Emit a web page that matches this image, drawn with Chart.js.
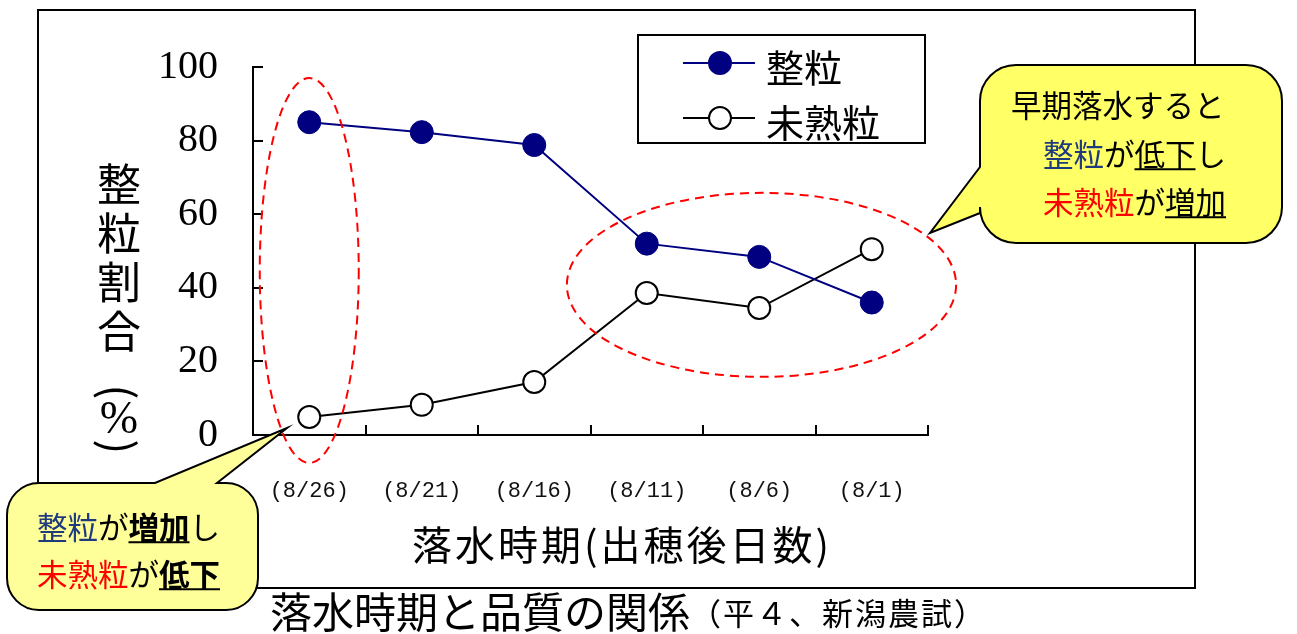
<!DOCTYPE html>
<html lang="ja">
<head>
<meta charset="utf-8">
<title>落水時期と品質の関係</title>
<script src="https://cdn.jsdelivr.net/npm/chart.js@4.4.1/dist/chart.umd.min.js"></script>
<style>
  html, body { margin: 0; padding: 0; background: #fff; }
  #wrap { width: 1297px; height: 634px; }
</style>
</head>
<body>
<div id="wrap"><canvas id="qualityChart" width="1297" height="634"></canvas></div>
<script>
// 落水時期（出穂後日数）ごとの整粒・未熟粒の割合（%）
const dates = ["(8/26)", "(8/21)", "(8/16)", "(8/11)", "(8/6)", "(8/1)"];
const seiryu = [85, 82.3, 78.8, 52, 48.4, 36];
const mijuku = [4.9, 8.2, 14.4, 38.6, 34.5, 50.5];
const yTicks = [0, 20, 40, 60, 80, 100];

const JP = '"Noto Sans CJK JP", sans-serif';
const SERIF = '"Liberation Serif", "DejaVu Serif", serif';
const NAVY = "#000080";
const TEXT_BLUE = "#1f3b7d";
const RED = "#ff0000";

// rounded speech bubble with a triangular tail on one edge
function bubblePath(ctx, x, y, w, h, r, tail) {
  ctx.beginPath();
  ctx.moveTo(x + r, y);
  if (tail.edge === "top") {
    ctx.lineTo(tail.a, y);
    ctx.lineTo(tail.tipX, tail.tipY);
    ctx.lineTo(tail.b, y);
  }
  ctx.lineTo(x + w - r, y);
  ctx.arcTo(x + w, y, x + w, y + r, r);
  ctx.lineTo(x + w, y + h - r);
  ctx.arcTo(x + w, y + h, x + w - r, y + h, r);
  ctx.lineTo(x + r, y + h);
  ctx.arcTo(x, y + h, x, y + h - r, r);
  if (tail.edge === "left") {
    ctx.lineTo(x, tail.b);
    ctx.lineTo(tail.tipX, tail.tipY);
    ctx.lineTo(x, tail.a);
  }
  ctx.lineTo(x, y + r);
  ctx.arcTo(x, y, x + r, y, r);
  ctx.closePath();
}

// one line of mixed-colour text, parts may be bold / underlined
function richLine(ctx, x, y, parts, size) {
  ctx.textAlign = "left";
  ctx.textBaseline = "middle";
  for (const p of parts) {
    ctx.font = (p.bold ? "bold " : "") + size + "px " + JP;
    ctx.fillStyle = p.color || "#000";
    ctx.fillText(p.t, x, y);
    const w = ctx.measureText(p.t).width;
    if (p.u) {
      ctx.fillStyle = "#000";
      ctx.fillRect(x, y + size / 2 - 1, w, 2);
    }
    x += w;
  }
}

function dashedEllipse(ctx, xs, ys, x0, x1, y0, y1) {
  const l = xs.getPixelForValue(x0), r = xs.getPixelForValue(x1);
  const t = ys.getPixelForValue(y0), b = ys.getPixelForValue(y1);
  ctx.save();
  ctx.strokeStyle = RED;
  ctx.lineWidth = 2;
  ctx.setLineDash([9, 6]);
  ctx.beginPath();
  ctx.ellipse((l + r) / 2, (t + b) / 2, (r - l) / 2, (b - t) / 2, 0, 0, Math.PI * 2);
  ctx.stroke();
  ctx.restore();
}

const decorPlugin = {
  id: "decor",
  beforeDraw(chart) {
    const ctx = chart.ctx;
    ctx.save();
    ctx.fillStyle = "#fff";
    ctx.fillRect(0, 0, chart.width, chart.height);
    // outer frame
    ctx.strokeStyle = "#000";
    ctx.lineWidth = 2;
    ctx.strokeRect(38, 10, 1157, 578);
    ctx.restore();
  },
  beforeDatasetsDraw(chart) {
    const { ctx, scales: { x, y } } = chart;
    ctx.save();
    ctx.strokeStyle = "#000";
    ctx.lineWidth = 2;
    ctx.beginPath();
    // inward tick marks on the value axis
    for (const v of yTicks) {
      const py = Math.round(y.getPixelForValue(v));
      ctx.moveTo(x.left, py);
      ctx.lineTo(x.left + 10, py);
    }
    // inward tick marks between categories
    const n = dates.length;
    for (let i = 1; i <= n; i++) {
      const px = i === n ? x.right : Math.round((x.getPixelForValue(i - 1) + x.getPixelForValue(i)) / 2);
      ctx.moveTo(px, y.bottom);
      ctx.lineTo(px, y.bottom - 10);
    }
    ctx.stroke();
    ctx.restore();
  },
  afterDatasetsDraw(chart) {
    const { ctx, scales: { x, y } } = chart;
    dashedEllipse(ctx, x, y, -0.44, 0.44, 97, -7.6);
    dashedEllipse(ctx, x, y, 2.29, 5.75, 65.8, 15.8);
  },
  afterDraw(chart) {
    const ctx = chart.ctx;
    ctx.save();

    // vertical axis title 整粒割合（%）
    ctx.fillStyle = "#000";
    ctx.textAlign = "center";
    ctx.textBaseline = "middle";
    ctx.font = "44px " + JP;
    ["整", "粒", "割", "合"].forEach((c, i) => ctx.fillText(c, 119, 184 + i * 49));
    ctx.font = "46px " + SERIF;
    ctx.fillText("%", 119, 421);
    ctx.font = "44px " + JP;
    [["(", 392], [")", 447]].forEach(([c, cy]) => {
      ctx.save();
      ctx.translate(119, cy);
      ctx.rotate(Math.PI / 2);
      ctx.fillText(c, 0, 0);
      ctx.restore();
    });

    // horizontal axis title
    ctx.letterSpacing = "3px";
    ctx.font = "40px " + JP;
    ctx.fillText("落水時期(出穂後日数)", 622, 545);
    ctx.letterSpacing = "0px";

    // legend
    ctx.strokeStyle = "#000";
    ctx.lineWidth = 2;
    ctx.strokeRect(638, 35, 287, 108);
    const entries = [
      { label: "整粒", y: 63, line: NAVY, fill: NAVY, edge: NAVY },
      { label: "未熟粒", y: 118, line: "#000", fill: "#fff", edge: "#000" }
    ];
    for (const e of entries) {
      ctx.strokeStyle = e.line;
      ctx.beginPath();
      ctx.moveTo(683, e.y);
      ctx.lineTo(755, e.y);
      ctx.stroke();
      ctx.beginPath();
      ctx.arc(720, e.y, 11, 0, Math.PI * 2);
      ctx.fillStyle = e.fill;
      ctx.fill();
      ctx.strokeStyle = e.edge;
      ctx.stroke();
      ctx.fillStyle = "#000";
      ctx.textAlign = "left";
      ctx.font = "38px " + JP;
      ctx.fillText(e.label, 766, e.y + 5);
    }

    // callout: 早期落水
    ctx.lineWidth = 2;
    ctx.strokeStyle = "#000";
    bubblePath(ctx, 980, 65, 302, 178, 36, { edge: "left", a: 167, b: 213, tipX: 930, tipY: 233 });
    ctx.fillStyle = "#ffff66";
    ctx.fill();
    ctx.stroke();
    richLine(ctx, 1011, 105, [{ t: "早期落水すると" }], 30.5);
    richLine(ctx, 1043, 154, [
      { t: "整粒", color: TEXT_BLUE }, { t: "が" }, { t: "低下", u: true }, { t: "し" }
    ], 30.5);
    richLine(ctx, 1043, 202, [
      { t: "未熟粒", color: RED }, { t: "が" }, { t: "増加", u: true }
    ], 30.5);

    // callout: 遅い落水
    bubblePath(ctx, 7, 483, 251, 127, 32, { edge: "top", a: 155, b: 217, tipX: 287, tipY: 428 });
    ctx.fillStyle = "#ffff99";
    ctx.fill();
    ctx.stroke();
    richLine(ctx, 37, 527, [
      { t: "整粒", color: TEXT_BLUE }, { t: "が" }, { t: "増加", bold: true, u: true }, { t: "し" }
    ], 30.5);
    richLine(ctx, 37, 574, [
      { t: "未熟粒", color: RED }, { t: "が" }, { t: "低下", bold: true, u: true }
    ], 30.5);

    // caption under the frame
    ctx.fillStyle = "#000";
    ctx.textAlign = "left";
    ctx.textBaseline = "alphabetic";
    ctx.font = "42px " + JP;
    const main = "落水時期と品質の関係";
    ctx.fillText(main, 270, 628);
    const mw = ctx.measureText(main).width;
    ctx.letterSpacing = "2px";
    ctx.font = "31px " + JP;
    ctx.fillText("（平４、新潟農試）", 270 + mw, 625);
    ctx.letterSpacing = "0px";

    ctx.restore();
  }
};

new Chart(document.getElementById("qualityChart"), {
  type: "line",
  data: {
    labels: dates,
    datasets: [
      {
        label: "整粒",
        data: seiryu,
        borderColor: NAVY,
        borderWidth: 2,
        backgroundColor: NAVY,
        pointBackgroundColor: NAVY,
        pointBorderColor: NAVY,
        pointBorderWidth: 1,
        pointRadius: 11.5,
        tension: 0
      },
      {
        label: "未熟粒",
        data: mijuku,
        borderColor: "#000",
        borderWidth: 2,
        backgroundColor: "#fff",
        pointBackgroundColor: "#fff",
        pointBorderColor: "#000",
        pointBorderWidth: 2,
        pointRadius: 11,
        tension: 0
      }
    ]
  },
  options: {
    responsive: false,
    devicePixelRatio: 1,
    animation: false,
    events: [],
    layout: { padding: { left: 40, top: 67, right: 369, bottom: 60 } },
    plugins: {
      legend: { display: false },
      tooltip: { enabled: false }
    },
    scales: {
      x: {
        offset: true,
        grid: { display: false, drawTicks: false },
        border: { display: true, color: "#000", width: 2 },
        ticks: {
          color: "#111",
          padding: 43,
          maxRotation: 0,
          font: { family: '"Liberation Mono", monospace', size: 22 }
        },
        afterFit(scale) { scale.height = 139; }
      },
      y: {
        min: 0,
        max: 100,
        grid: { display: false, drawTicks: false },
        border: { display: true, color: "#000", width: 2 },
        ticks: {
          color: "#000",
          padding: 35,
          font: { family: SERIF, size: 40 }
        },
        afterBuildTicks(scale) { scale.ticks = yTicks.map(v => ({ value: v })); },
        afterFit(scale) { scale.width = 213; }
      }
    }
  },
  plugins: [decorPlugin]
});
</script>
</body>
</html>
